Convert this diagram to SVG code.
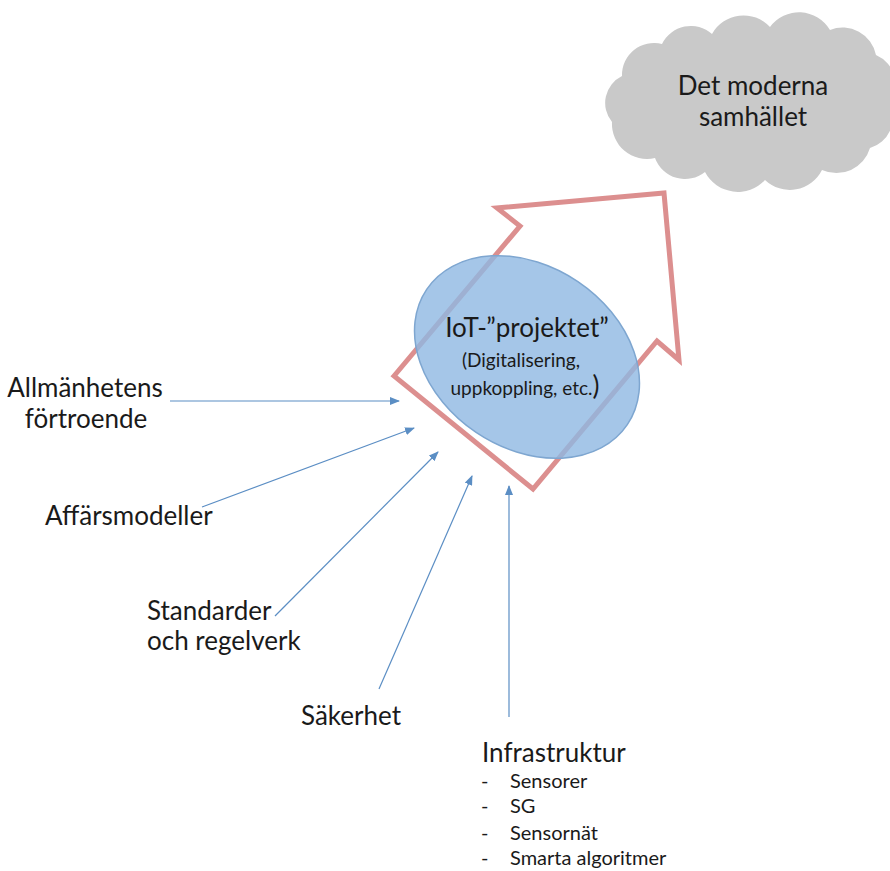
<svg xmlns="http://www.w3.org/2000/svg" width="890" height="871" viewBox="0 0 890 871">
<style>
.t{font-family:Lato,"Open Sans","Liberation Sans",sans-serif;fill:#1a1a1a}
.big{font-size:26px}
.mid{font-size:19px}
.sm{font-size:20px}
.conn{stroke:#5b8ec4;stroke-width:1.2;fill:none;marker-end:url(#ah)}
</style>
<defs>
<marker id="ah" markerUnits="userSpaceOnUse" markerWidth="10" markerHeight="8" refX="9" refY="4" orient="auto">
<path d="M0,0 L10,4 L0,8 Z" fill="#5b8ec4"/>
</marker>
</defs>
<rect width="890" height="871" fill="#fff"/>
<g id="cloud">
<path d="M612,122 A30,30 0 0 1 622,76 A32,32 0 0 1 662,44 A32,32 0 0 1 712,34 A36,36 0 0 1 770,27 A36,36 0 0 1 830,30 A34,34 0 0 1 876,55 A33,33 0 0 1 890,104 A32,32 0 0 1 870,148 A35,35 0 0 1 822,170 A36,36 0 0 1 765,180 A37,37 0 0 1 705,172 A32,32 0 0 1 655,158 A35,35 0 0 1 612,122 Z" fill="#c9c9c9"/>
<text class="t big" x="753" y="95" text-anchor="middle">Det moderna</text>
<text class="t big" x="753" y="126" text-anchor="middle">samhället</text>
</g>
<g id="arrow">
<polygon points="394,376 520,226 497,208 664,193 679,360 657,341 533,489" fill="none" stroke="#dc8f8f" stroke-width="5" stroke-linejoin="miter"/>
</g>
<g id="iot">
<ellipse cx="527" cy="357" rx="121" ry="91" transform="rotate(34 527 357)" fill="#8fb8e2" fill-opacity="0.8" stroke="#7ea6d0" stroke-width="1.5"/>
<text class="t big" x="527" y="337" text-anchor="middle">IoT-”projektet”</text>
<text class="t mid" x="521" y="367" text-anchor="middle">(Digitalisering,</text>
<text class="t mid" x="525" y="395" text-anchor="middle">uppkoppling, etc.<tspan style="font-size:26px">)</tspan></text>
</g>
<g id="allmanhetens">
<text class="t big" x="85" y="397" text-anchor="middle">Allmänhetens</text>
<text class="t big" x="86" y="428" text-anchor="middle">förtroende</text>
</g>
<g id="affarsmodeller">
<text class="t big" x="45" y="525">Affärsmodeller</text>
</g>
<g id="standarder">
<text class="t big" x="147" y="620">Standarder</text>
<text class="t big" x="147" y="650">och regelverk</text>
</g>
<g id="sakerhet">
<text class="t big" x="301" y="725">Säkerhet</text>
</g>
<g id="infrastruktur">
<text class="t big" x="482" y="762">Infrastruktur</text>
<text class="t sm" x="481" y="788">-</text><text class="t sm" x="510" y="788">Sensorer</text>
<text class="t sm" x="481" y="813">-</text><text class="t sm" x="510" y="813">SG</text>
<text class="t sm" x="481" y="840">-</text><text class="t sm" x="510" y="840">Sensornät</text>
<text class="t sm" x="481" y="865">-</text><text class="t sm" x="510" y="865">Smarta algoritmer</text>
</g>
<g id="connectors">
<line class="conn" x1="170" y1="401" x2="399" y2="401"/>
<line class="conn" x1="202" y1="507" x2="414" y2="428"/>
<line class="conn" x1="275" y1="616" x2="438" y2="452"/>
<line class="conn" x1="379" y1="689" x2="472" y2="476"/>
<line class="conn" x1="509" y1="717" x2="509" y2="486"/>
</g>
</svg>
